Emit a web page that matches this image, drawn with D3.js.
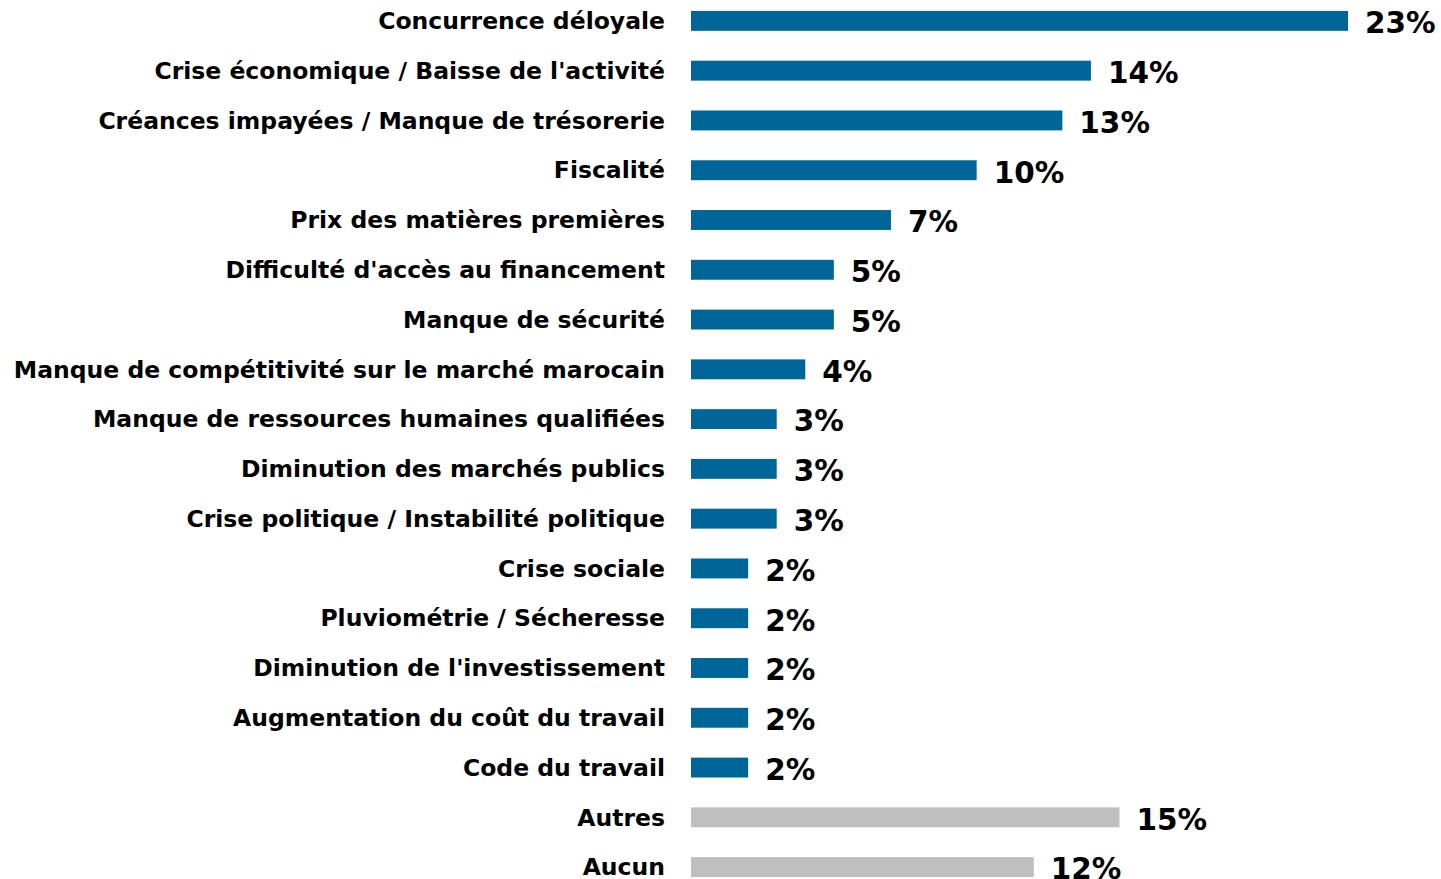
<!DOCTYPE html>
<html>
<head>
<meta charset="utf-8">
<script src="https://cdn.jsdelivr.net/npm/d3@7"></script>
<style>
  body { margin: 0; background: #fff; }
  text { font-family: "DejaVu Sans", Verdana, sans-serif; font-weight: bold; fill: #000; }
</style>
</head>
<body>
<svg></svg>
<script>
var categories = [
  "Concurrence déloyale",
  "Crise économique / Baisse de l'activité",
  "Créances impayées / Manque de trésorerie",
  "Fiscalité",
  "Prix des matières premières",
  "Difficulté d'accès au financement",
  "Manque de sécurité",
  "Manque de compétitivité sur le marché marocain",
  "Manque de ressources humaines qualifiées",
  "Diminution des marchés publics",
  "Crise politique / Instabilité politique",
  "Crise sociale",
  "Pluviométrie / Sécheresse",
  "Diminution de l'investissement",
  "Augmentation du coût du travail",
  "Code du travail",
  "Autres",
  "Aucun"
];
var values = [23, 14, 13, 10, 7, 5, 5, 4, 3, 3, 3, 2, 2, 2, 2, 2, 15, 12];
var greyed = ["Autres", "Aucun"];

var w = 1441,
    h = 879;

var vis = d3.select("svg")
    .attr("width", w)
    .attr("height", h);

var x = d3.scaleLinear()
    .domain([0, 23])
    .range([691, 1348]);

var y = d3.scaleBand()
    .domain(categories)
    .range([-4, 892])
    .paddingInner(0.6)
    .paddingOuter(0.3);

var rows = vis.selectAll("g.row")
    .data(categories)
    .enter().append("g")
    .attr("class", "row");

rows.append("rect")
    .attr("x", x(0))
    .attr("y", function(d) { return y(d); })
    .attr("width", function(d, i) { return x(values[i]) - x(0); })
    .attr("height", y.bandwidth())
    .attr("fill", function(d) { return greyed.indexOf(d) >= 0 ? "#bfbfbf" : "#006699"; });

// category labels, right aligned before the bars
rows.append("text")
    .attr("x", 665)
    .attr("y", function(d) { return y(d) + y.bandwidth() / 2; })
    .attr("dy", "0.35em")
    .attr("text-anchor", "end")
    .style("font-size", "23.5px")
    .text(function(d) { return d; });

// value labels
rows.append("text")
    .attr("x", function(d, i) { return x(values[i]) + 17; })
    .attr("y", function(d) { return y(d) + y.bandwidth() / 2 + 2; })
    .attr("dy", "0.35em")
    .style("font-size", "29.5px")
    .text(function(d, i) { return values[i] + "%"; });
</script>
</body>
</html>
